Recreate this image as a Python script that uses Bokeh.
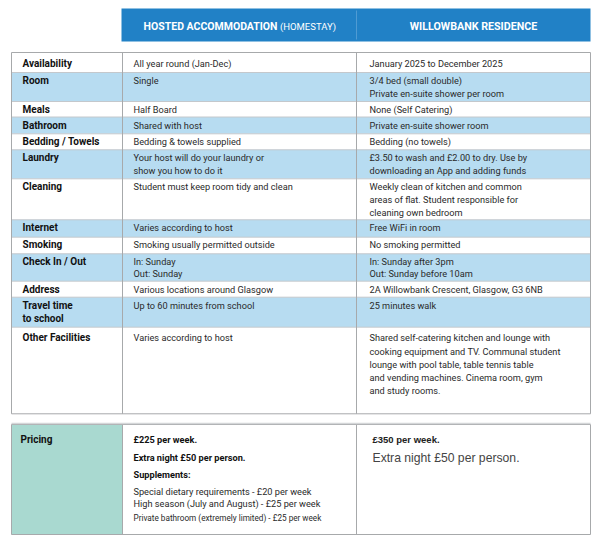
from bokeh.plotting import figure
from bokeh.models import Range1d, ColumnDataSource
from bokeh.embed import file_html
from bokeh.resources import INLINE
from bokeh.core.properties import value

# ---------------- data ----------------
header_left = "HOSTED ACCOMMODATION"
header_left_sub = "(HOMESTAY)"
header_right = "WILLOWBANK RESIDENCE"

labels = ["Availability", "Room", "Meals", "Bathroom", "Bedding / Towels", "Laundry",
          "Cleaning", "Internet", "Smoking", "Check In / Out", "Address",
          "Travel time\nto school", "Other Facilities"]

hosted = ["All year round (Jan-Dec)",
          "Single",
          "Half Board",
          "Shared with host",
          "Bedding & towels supplied",
          "Your host will do your laundry or\nshow you how to do it",
          "Student must keep room tidy and clean",
          "Varies according to host",
          "Smoking usually permitted outside",
          "In: Sunday\nOut: Sunday",
          "Various locations around Glasgow",
          "Up to 60 minutes from school",
          "Varies according to host"]

willowbank = ["January 2025 to December 2025",
              "3/4 bed (small double)\nPrivate en-suite shower per room",
              "None (Self Catering)",
              "Private en-suite shower room",
              "Bedding (no towels)",
              "£3.50 to wash and £2.00 to dry. Use by\ndownloading an App and adding funds",
              "Weekly clean of kitchen and common\nareas of flat. Student responsible for\ncleaning own bedroom",
              "Free WiFi in room",
              "No smoking permitted",
              "In: Sunday after 3pm\nOut: Sunday before 10am",
              "2A Willowbank Crescent, Glasgow, G3 6NB",
              "25 minutes walk",
              "Shared self-catering kitchen and lounge with\ncooking equipment and TV. Communal student\nlounge with pool table, table tennis table\nand vending machines. Cinema room, gym\nand study rooms."]

pricing_label = "Pricing"
pricing_hosted_bold = ["£225 per week.", "Extra night £50 per person.", "Supplements:"]
pricing_hosted_items = ["Special dietary requirements - £20 per week",
                        "High season (July and August) - £25 per week"]
pricing_hosted_small = "Private bathroom (extremely limited) - £25 per week"
pricing_willow_bold = "£350 per week."
pricing_willow_note = "Extra night £50 per person."

# ---------------- layout (page pixels) ----------------
X0, X1, X2, X3 = 11, 122, 356, 590
row_edges = [52, 72, 101, 116.5, 133.3, 149.3, 178.3, 219.3, 236.7, 253.3,
             280.7, 296.7, 326.7, 413.3]
first_offset = [11, 8, 8, 8.5, 7.8, 7.8, 7.8, 8, 7.4, 7.4, 8.6, 8.3, 10.5]
line_gap = [12.7] * 12 + [13.3]
PT, PB = 424, 534          # pricing box
HT, HB = 8, 41             # header band
HL, HR = 121, 590

FONT = "Roboto"
BLUE = "#2181c6"
LIGHT = "#b7dcf1"
TEAL = "#a9d9d0"
BODY = "9.2px"

p = figure(width=592, height=536, output_backend="svg", toolbar_location=None,
           x_range=Range1d(0, 592), y_range=Range1d(536, 0),
           min_border=0, outline_line_color=None, background_fill_color="white",
           border_fill_color="white")
p.axis.visible = False
p.grid.visible = False

# header band
p.quad(left=[HL], right=[HR], top=[HT], bottom=[HB], fill_color=BLUE, line_color=None)
p.segment(x0=[X2], y0=[HT + 2], x1=[X2], y1=[HB - 2], line_color="#4f9bd3", line_width=1)
p.text(x=[277], y=[25.5], text=[header_left], text_align="right", text_baseline="middle",
       text_font=value(FONT), text_font_style="bold", text_font_size="10.5px", text_color="white")
p.text(x=[279.5], y=[25.8], text=[header_left_sub], text_align="left", text_baseline="middle",
       text_font=value(FONT), text_font_size="9.5px", text_color="white")
p.text(x=[(X2 + HR) / 2], y=[25.5], text=[header_right], text_align="center", text_baseline="middle",
       text_font=value(FONT), text_font_style="bold", text_font_size="10.7px", text_color="white")

# row backgrounds
tops = row_edges[:-1]
bots = row_edges[1:]
fills = [LIGHT if i % 2 == 1 else "white" for i in range(len(labels))]
p.quad(source=ColumnDataSource(dict(l=[X0] * len(tops), r=[X3] * len(tops), t=tops, b=bots, f=fills)),
       left="l", right="r", top="t", bottom="b", fill_color="f", line_color=None)

# horizontal row lines
inner = row_edges[1:-1]
p.segment(x0=[X0] * len(inner), y0=inner, x1=[X3] * len(inner), y1=inner,
          line_color="#c4c8cc", line_width=1)

# pricing box
p.quad(left=[X0], right=[X1], top=[PT], bottom=[PB], fill_color=TEAL, line_color=None)

# borders
p.segment(x0=[X0, X0, X0, X3, X1, X2],
          y0=[row_edges[0], row_edges[-1], row_edges[0], row_edges[0], row_edges[0], row_edges[0]],
          x1=[X3, X3, X0, X3, X1, X2],
          y1=[row_edges[0], row_edges[-1], row_edges[-1], row_edges[-1], row_edges[-1], row_edges[-1]],
          line_color="#a7a9ab", line_width=1)
p.segment(x0=[X0, X0, X0, X3, X1, X2], y0=[PT, PB, PT, PT, PT, PT],
          x1=[X3, X3, X0, X3, X1, X2], y1=[PT, PB, PB, PB, PB, PB],
          line_color="#a7a9ab", line_width=1)
p.segment(x0=[X0], y0=[PT - 1], x1=[X3], y1=[PT - 1], line_color="#d4d6d8", line_width=1.5)

# cell texts
def cell_lines(texts, x):
    xs, ys, ts = [], [], []
    for i, t in enumerate(texts):
        for k, line in enumerate(t.split("\n")):
            xs.append(x)
            ys.append(tops[i] + first_offset[i] + k * line_gap[i])
            ts.append(line)
    return ColumnDataSource(dict(x=xs, y=ys, t=ts))

p.text(source=cell_lines(labels, 22), x="x", y="y", text="t", text_baseline="middle",
       text_font=value(FONT), text_font_style="bold", text_font_size="10px", text_color="#111")
p.text(source=cell_lines(hosted, 133), x="x", y="y", text="t", text_baseline="middle",
       text_font=value(FONT), text_font_size=BODY, text_color="#2a2a2a")
p.text(source=cell_lines(willowbank, 369), x="x", y="y", text="t", text_baseline="middle",
       text_font=value(FONT), text_font_size=BODY, text_color="#2a2a2a")

# pricing texts
p.text(x=[20], y=[439], text=[pricing_label], text_baseline="middle",
       text_font=value(FONT), text_font_style="bold", text_font_size="10px", text_color="#111")
p.text(x=[133] * 3, y=[439, 457, 474], text=pricing_hosted_bold, text_baseline="middle",
       text_font=value(FONT), text_font_style="bold", text_font_size=BODY, text_color="#111")
p.text(x=[133] * 2, y=[490.7, 503.3], text=pricing_hosted_items, text_baseline="middle",
       text_font=value(FONT), text_font_size=BODY, text_color="#2a2a2a")
p.text(x=[133], y=[517.7], text=[pricing_hosted_small], text_baseline="middle",
       text_font=value(FONT), text_font_size="8.2px", text_color="#2a2a2a")
p.text(x=[372], y=[439], text=[pricing_willow_bold], text_baseline="middle",
       text_font=value("Liberation Sans"), text_font_style="bold", text_font_size="9.5px", text_color="#222")
p.text(x=[372], y=[457], text=[pricing_willow_note], text_baseline="middle",
       text_font=value("Liberation Sans"), text_font_size="12.2px", text_color="#444")

open("out.html", "w").write(file_html(p, INLINE))
